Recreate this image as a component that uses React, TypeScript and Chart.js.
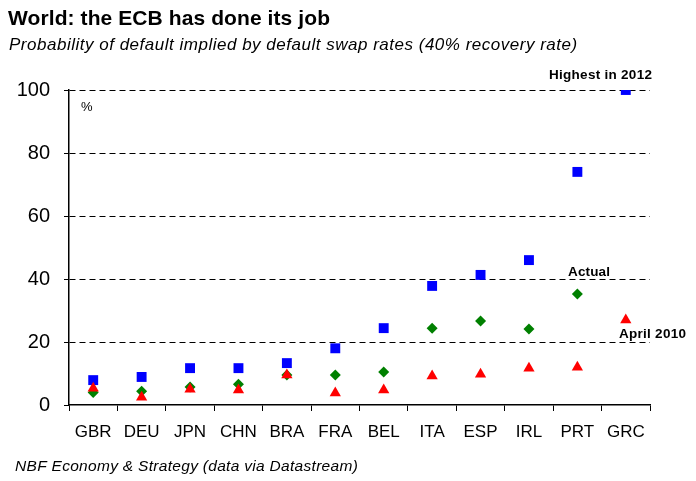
import React, { useEffect, useRef } from "react";
import { Chart, registerables } from "chart.js";

Chart.register(...registerables);

const categories = ["GBR", "DEU", "JPN", "CHN", "BRA", "FRA", "BEL", "ITA", "ESP", "IRL", "PRT", "GRC"];
const highest2012 = [7.9, 8.9, 11.7, 11.7, 13.3, 18, 24.4, 37.8, 41.3, 46, 74, 100];
const actual = [4, 4.4, 5.7, 6.6, 9.5, 9.5, 10.5, 24.4, 26.7, 24.1, 35.2, null];
const april2010 = [5.3, 2.5, 5, 4.8, 9.5, 3.8, 4.8, 9.2, 9.8, 11.7, 12, 27];
const yTicks = [0, 20, 40, 60, 80, 100];

const FONT = "'Liberation Sans', Arial, sans-serif";

function drawFit(ctx: any, text: string, x: number, y: number, font: string, width: number) {
  ctx.font = font;
  ctx.letterSpacing = "0px";
  const w = ctx.measureText(text).width;
  const sp = (width - w) / Math.max(1, text.length - 1);
  ctx.letterSpacing = `${sp.toFixed(2)}px`;
  ctx.fillText(text, x, y);
  ctx.letterSpacing = "0px";
}

const textPlugin = {
  id: "texts",
  afterDraw(chart: any) {
    const ctx = chart.ctx;
    ctx.save();
    ctx.fillStyle = "#000";
    ctx.textBaseline = "middle";
    ctx.textAlign = "left";
    drawFit(ctx, "World: the ECB has done its job", 8, 19, `bold 21px ${FONT}`, 322);
    drawFit(ctx, "Probability of default implied by default swap rates (40% recovery rate)", 9, 45, `italic 17px ${FONT}`, 568);
    drawFit(ctx, "NBF Economy & Strategy (data via Datastream)", 15, 467, `italic 15.5px ${FONT}`, 343);
    ctx.font = `13px ${FONT}`;
    ctx.fillText("%", 81, 107);
    drawFit(ctx, "Highest in 2012", 549, 75, `bold 13.5px ${FONT}`, 103);
    drawFit(ctx, "Actual", 568, 272, `bold 13.5px ${FONT}`, 42);
    drawFit(ctx, "April 2010", 619, 334, `bold 13.5px ${FONT}`, 67);
    ctx.restore();
  },
};

export default function App() {
  const ref = useRef<HTMLCanvasElement>(null);
  useEffect(() => {
    if (!ref.current) return;
    const chart = new Chart(ref.current, {
      type: "line",
      data: {
        labels: categories,
        datasets: [
          {
            label: "Highest in 2012",
            data: highest2012,
            order: 2,
            showLine: false,
            pointStyle: "rect",
            pointRadius: 7,
            pointBackgroundColor: "#0000ff",
            pointBorderColor: "#0000ff",
            pointBorderWidth: 0,
          },
          {
            label: "Actual",
            data: actual,
            order: 1,
            showLine: false,
            pointStyle: "rectRot",
            pointRadius: 5.5,
            pointBackgroundColor: "#008000",
            pointBorderColor: "#008000",
            pointBorderWidth: 0,
          },
          {
            label: "April 2010",
            data: april2010,
            order: 0,
            showLine: false,
            pointStyle: "triangle",
            pointRadius: 6.5,
            pointBackgroundColor: "#ff0000",
            pointBorderColor: "#ff0000",
            pointBorderWidth: 0,
          },
        ],
      },
      options: {
        animation: false,
        responsive: false,
        maintainAspectRatio: false,
        layout: { padding: { top: 90, right: 46, left: 0, bottom: 0 } },
        plugins: { legend: { display: false }, tooltip: { enabled: false }, title: { display: false } },
        scales: {
          x: {
            offset: true,
            afterFit: (s: any) => { s.height = 76; },
            grid: {
              offset: true,
              drawOnChartArea: false,
              drawTicks: true,
              tickLength: 6,
              color: "#000",
              lineWidth: 1,
            },
            border: { display: true, color: "#000", width: 1.5 },
            ticks: { color: "#000", font: { family: FONT, size: 17 }, padding: 11, autoSkip: false, maxRotation: 0 },
          },
          y: {
            min: 0,
            max: 100,
            afterFit: (s: any) => { s.width = 69; },
            afterBuildTicks: (s: any) => { s.ticks = yTicks.map((v) => ({ value: v })); },
            grid: {
              color: (c: any) => (c.tick && c.tick.value === 0 ? "rgba(0,0,0,0)" : "#000"),
              lineWidth: 1,
              tickLength: 5,
              tickColor: "#000",
              tickBorderDash: [],
            } as any,
            border: { display: true, color: "#000", width: 1.5, dash: [6, 4] } as any,
            ticks: { color: "#000", font: { family: FONT, size: 20 }, padding: 14 },
          },
        },
      },
      plugins: [textPlugin],
    });
    return () => chart.destroy();
  }, []);
  return (
    <div style={{ position: "absolute", left: 0, top: 0, width: 696, height: 481, background: "#fff" }}>
      <canvas ref={ref} width={696} height={481} style={{ display: "block", width: 696, height: 481 }} />
    </div>
  );
}
